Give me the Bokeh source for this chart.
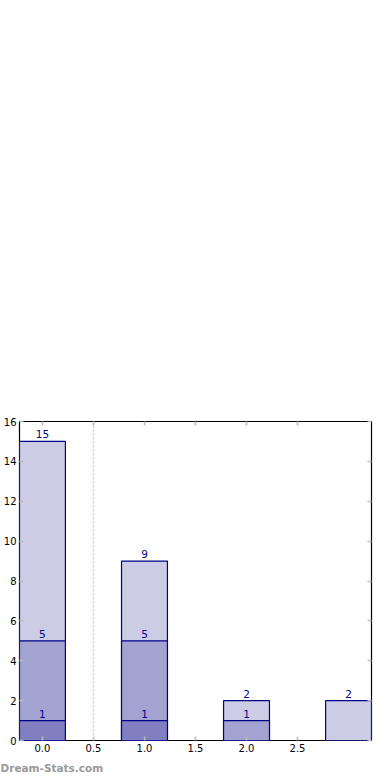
from bokeh.plotting import figure
from bokeh.models import (LinearAxis, FixedTicker, Span, Title, ColumnDataSource,
                          Range1d, CustomJSTickFormatter)
from bokeh.embed import file_html
from bokeh.resources import INLINE
from bokeh.core.properties import value

# ---- data ----
categories = [0, 1, 2, 3]
series_total = [15, 9, 2, 2]      # light layer
series_mid = [5, 5, 1, 0]          # middle layer
series_low = [1, 1, 0, 0]          # dark layer
x_ticks = [0.0, 0.5, 1.0, 1.5, 2.0, 2.5]
y_ticks = [0, 2, 4, 6, 8, 10, 12, 14, 16]

FONT = "DejaVu Sans"
NAVY = "#00008B"

p = figure(width=390, height=780, output_backend="svg", toolbar_location=None,
           x_range=Range1d(-0.225, 3.225), y_range=Range1d(0, 16),
           frame_width=352, frame_height=319,
           min_border_left=19, min_border_right=19, min_border_top=421, min_border_bottom=40,
           x_axis_location=None, y_axis_location=None)
p.grid.visible = False
p.outline_line_color = "black"
p.outline_line_width = 1.2
p.background_fill_color = "white"
p.border_fill_color = "white"

def make_axis(ticks, labels=True):
    ax = LinearAxis(ticker=FixedTicker(ticks=ticks))
    ax.axis_line_color = None
    ax.major_tick_in = 4
    ax.major_tick_out = 0
    ax.major_tick_line_color = "#bbbbbb"
    ax.major_tick_line_width = 1.5
    ax.minor_tick_line_color = None
    ax.major_label_text_font = FONT
    ax.major_label_text_font_size = "10px"
    ax.major_label_text_color = "black"
    ax.major_label_standoff = 3
    if not labels:
        ax.formatter = CustomJSTickFormatter(code="return '';")
        ax.major_label_standoff = 0
    return ax

xb = make_axis(x_ticks)
xb.formatter = CustomJSTickFormatter(code="return tick.toFixed(1);")
p.add_layout(xb, "below")
p.add_layout(make_axis(x_ticks, labels=False), "above")
p.add_layout(make_axis(y_ticks), "left")
p.add_layout(make_axis(y_ticks, labels=False), "right")

p.add_layout(Span(location=0.5, dimension="height", line_color="#cccccc",
                  line_width=1.5, line_dash="2 2"))

layers = [(series_total, "#CCCCE5"), (series_mid, "#A3A3D1"), (series_low, "#8080C0")]
for vals, col in layers:
    xs = [c for c, v in zip(categories, vals) if v > 0]
    vs = [v for v in vals if v > 0]
    src = ColumnDataSource(dict(x=xs, top=vs, lab=[str(v) for v in vs]))
    p.vbar(x="x", top="top", bottom=0, width=0.45, source=src,
           fill_color=col, line_color=NAVY, line_width=1.2)
    p.text(x="x", y="top", text="lab", source=src, text_align="center",
           text_baseline="bottom", y_offset=-3, text_color=NAVY,
           text_font=value(FONT), text_font_size="10.5px")

# watermark
wm = Title(text="Dream-Stats.com", align="left", offset=-19, standoff=10,
           text_font=FONT, text_font_size="10.5px", text_font_style="bold",
           text_color="#999999")
p.add_layout(wm, "below")

open("out.html", "w").write(file_html(p, INLINE))
